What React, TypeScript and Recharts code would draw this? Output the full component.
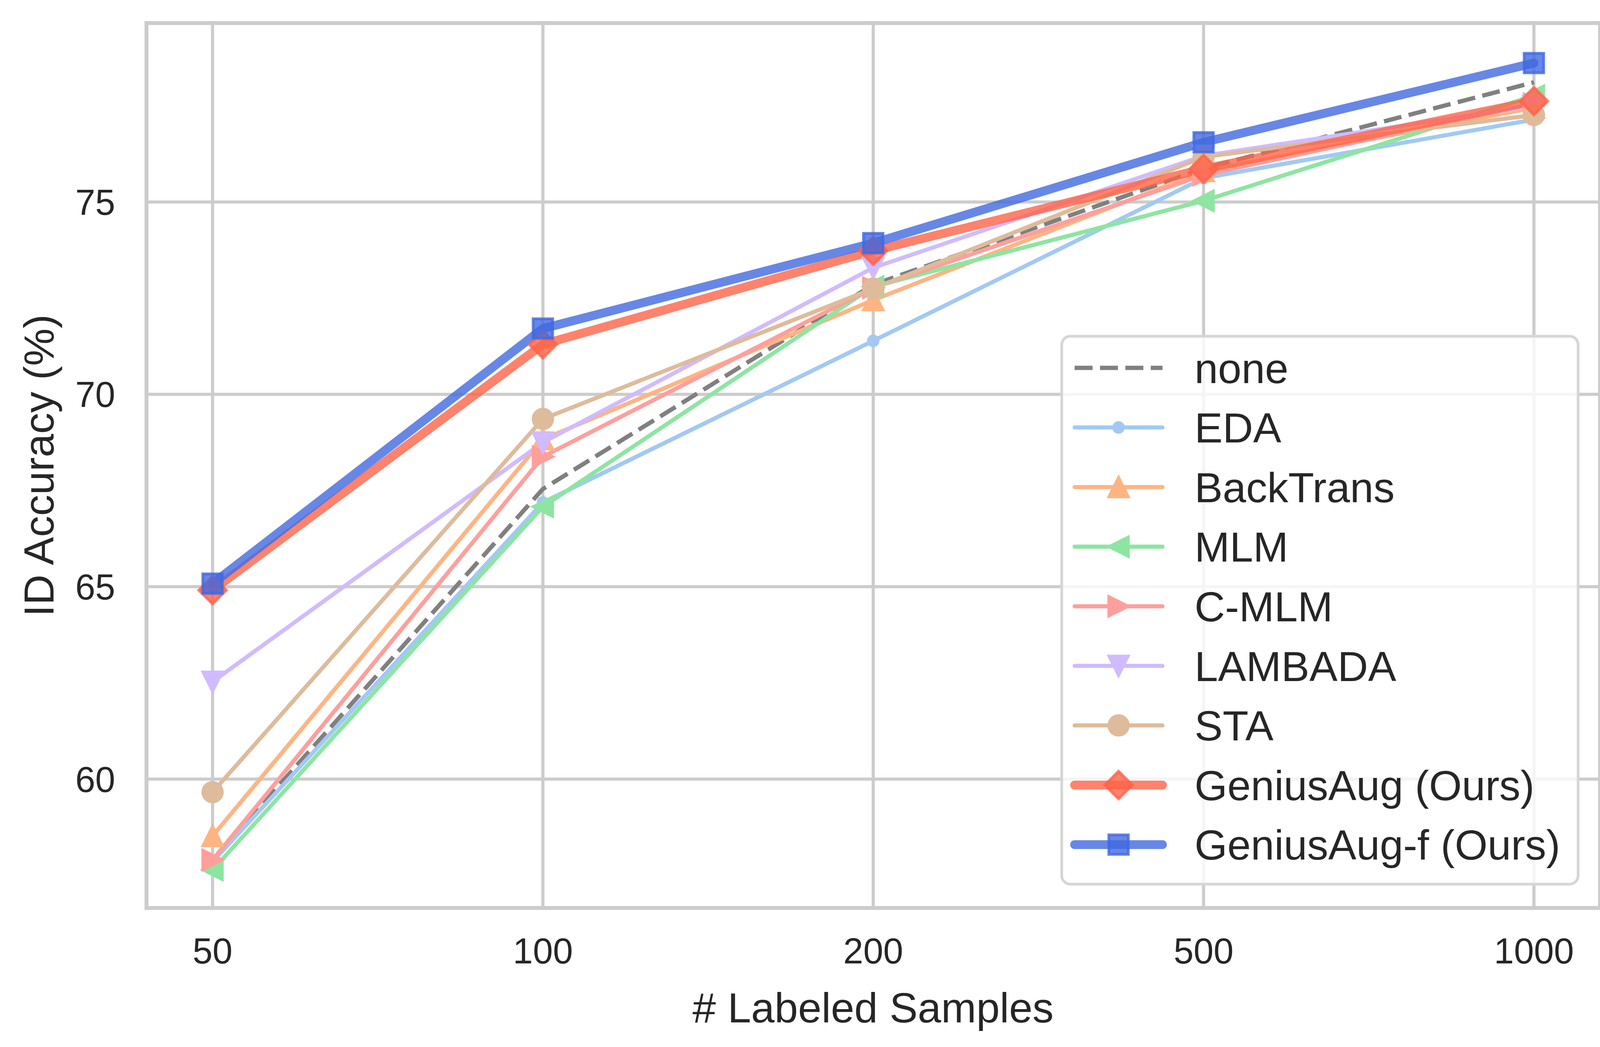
import React from 'react';
import { LineChart, Line, XAxis, YAxis, CartesianGrid, ReferenceArea, Label } from 'recharts';

const samples = ['50', '100', '200', '500', '1000'];

const none = [57.9, 67.54, 72.85, 75.87, 78.11];
const eda = [57.85, 67.19, 71.39, 75.62, 77.14];
const backTrans = [58.52, 68.83, 72.45, 75.8, 77.45];
const mlm = [57.64, 67.08, 72.8, 75.03, 77.76];
const cmlm = [57.9, 68.38, 72.77, 75.7, 77.55];
const lambada = [62.53, 68.75, 73.29, 76.2, 77.5];
const sta = [59.66, 69.36, 72.75, 76.17, 77.26];
const geniusAug = [64.91, 71.3, 73.73, 75.86, 77.62];
const geniusAugF = [65.08, 71.71, 73.93, 76.55, 78.61];

const yTicks = [60, 65, 70, 75];
const Y_MIN = 56.65;
const Y_MAX = 79.65;

const W = 4155;
const H = 2681;
const FONT = 'Arial, "Liberation Sans", sans-serif';
const INK = '#262626';
const GRID = '#cccccc';
const MS = 50; // marker size
const MEW = 7; // marker edge width

type Kind = 'none' | 'point' | 'up' | 'left' | 'right' | 'down' | 'circle' | 'diamond' | 'square';

interface Series {
  key: string;
  name: string;
  values: number[];
  color: string;
  width: number;
  alpha: number;
  marker: Kind;
  dashed?: boolean;
}

const series: Series[] = [
  { key: 'none', name: 'none', values: none, color: '#808080', width: 11, alpha: 1, marker: 'none', dashed: true },
  { key: 'eda', name: 'EDA', values: eda, color: '#a1c9f4', width: 10.5, alpha: 1, marker: 'point' },
  { key: 'backTrans', name: 'BackTrans', values: backTrans, color: '#ffb482', width: 10.5, alpha: 1, marker: 'up' },
  { key: 'mlm', name: 'MLM', values: mlm, color: '#8de5a1', width: 10.5, alpha: 1, marker: 'left' },
  { key: 'cmlm', name: 'C-MLM', values: cmlm, color: '#ff9f9b', width: 10.5, alpha: 1, marker: 'right' },
  { key: 'lambada', name: 'LAMBADA', values: lambada, color: '#d0bbff', width: 10.5, alpha: 1, marker: 'down' },
  { key: 'sta', name: 'STA', values: sta, color: '#debb9b', width: 10.5, alpha: 1, marker: 'circle' },
  { key: 'geniusAug', name: 'GeniusAug (Ours)', values: geniusAug, color: '#ff6347', width: 22.5, alpha: 0.8, marker: 'diamond' },
  { key: 'geniusAugF', name: 'GeniusAug-f (Ours)', values: geniusAugF, color: '#4169e1', width: 22.5, alpha: 0.8, marker: 'square' },
];

const data = samples.map((s, i) => {
  const row: Record<string, number> = { x: i };
  series.forEach((sr) => {
    row[sr.key] = sr.values[i];
  });
  return row;
});

function Marker({ kind, cx, cy, color, alpha }: { kind: Kind; cx: number; cy: number; color: string; alpha: number }) {
  const common = {
    fill: color,
    fillOpacity: alpha,
    stroke: color,
    strokeOpacity: alpha,
    strokeWidth: MEW,
    strokeLinejoin: 'miter' as const,
  };
  const r = MS / 2;
  const pts = (arr: number[][]) => arr.map(([a, b]) => `${cx + a},${cy + b}`).join(' ');
  switch (kind) {
    case 'point':
      return <circle cx={cx} cy={cy} r={r / 2} {...common} />;
    case 'circle':
      return <circle cx={cx} cy={cy} r={r} {...common} />;
    case 'up':
      return <polygon points={pts([[0, -r], [-r, r], [r, r]])} {...common} />;
    case 'down':
      return <polygon points={pts([[0, r], [-r, -r], [r, -r]])} {...common} />;
    case 'left':
      return <polygon points={pts([[-r, 0], [r, -r], [r, r]])} {...common} />;
    case 'right':
      return <polygon points={pts([[r, 0], [-r, -r], [-r, r]])} {...common} />;
    case 'diamond': {
      const d = (MS * Math.SQRT2) / 2;
      return <polygon points={pts([[0, -d], [d, 0], [0, d], [-d, 0]])} {...common} />;
    }
    case 'square':
      return <rect x={cx - r} y={cy - r} width={MS} height={MS} {...common} />;
    default:
      return <g />;
  }
}

const YTitle = () => (
  <text
    x={137}
    y={1192}
    transform="rotate(-90 137 1192)"
    textAnchor="middle"
    fontFamily={FONT}
    fontSize={108}
    fill={INK}
  >
    ID Accuracy (%)
  </text>
);

const XTitle = () => (
  <text x={2235} y={2618} textAnchor="middle" fontFamily={FONT} fontSize={108} fill={INK}>
    # Labeled Samples
  </text>
);

// legend box geometry
const LG = { left: 2718, top: 861, width: 1322, height: 1403, row0: 942, step: 152.6, h1: 2751, h2: 2976, text: 3058 };

const LegendBox = () => (
  <svg
    width={W}
    height={H}
    style={{ position: 'absolute', left: 0, top: 0, pointerEvents: 'none' }}
  >
    <rect
      x={LG.left}
      y={LG.top}
      width={LG.width}
      height={LG.height}
      rx={22}
      ry={22}
      fill="#ffffff"
      fillOpacity={0.8}
      stroke="#d6d6d6"
      strokeWidth={7}
    />
    {series.map((s, i) => {
      const y = LG.row0 + LG.step * i;
      const mid = (LG.h1 + LG.h2) / 2;
      return (
        <g key={s.key}>
          <line
            x1={LG.h1}
            x2={LG.h2}
            y1={y}
            y2={y}
            stroke={s.color}
            strokeOpacity={s.alpha}
            strokeWidth={s.width}
            strokeLinecap={s.dashed ? 'butt' : 'round'}
            strokeDasharray={s.dashed ? '46 19' : undefined}
          />
          <Marker kind={s.marker} cx={mid} cy={y} color={s.color} alpha={s.alpha} />
          <text x={LG.text} y={y + 38.5} fontFamily={FONT} fontSize={108} fill={INK}>
            {s.name}
          </text>
        </g>
      );
    })}
  </svg>
);

export default function App() {
  return (
    <div style={{ position: 'absolute', left: 0, top: 0, width: W, height: H, background: '#ffffff' }}>
      <LineChart width={W} height={H} data={data} margin={{ top: 59, right: 59, bottom: 0, left: 0 }}>
        <CartesianGrid stroke={GRID} strokeWidth={8} />
        <XAxis
          dataKey="x"
          type="number"
          domain={[-0.2, 4.2]}
          ticks={[0, 1, 2, 3, 4]}
          interval={0}
          allowDataOverflow
          tickFormatter={(v: number) => samples[v]}
          height={356}
          axisLine={false}
          tickLine={false}
          tickSize={0}
          tickMargin={77}
          tick={{ fontSize: 92, fill: INK, fontFamily: FONT }}
        >
          <Label content={XTitle} />
        </XAxis>
        <YAxis
          type="number"
          domain={[Y_MIN, Y_MAX]}
          ticks={yTicks}
          interval={0}
          allowDataOverflow
          width={375}
          axisLine={false}
          tickLine={false}
          tickSize={0}
          tickMargin={80}
          tick={{ fontSize: 92, fill: INK, fontFamily: FONT }}
        >
          <Label content={YTitle} />
        </YAxis>
        <ReferenceArea
          x1={-0.2}
          x2={4.2}
          y1={Y_MIN}
          y2={Y_MAX}
          fill="none"
          stroke={GRID}
          strokeWidth={10}
          ifOverflow="visible"
        />
        {series.map((s) => (
          <Line
            key={s.key}
            dataKey={s.key}
            name={s.name}
            type="linear"
            stroke={s.color}
            strokeOpacity={s.alpha}
            strokeWidth={s.width}
            strokeLinecap={s.dashed ? 'butt' : 'round'}
            strokeLinejoin="round"
            strokeDasharray={s.dashed ? '46 19' : undefined}
            isAnimationActive={false}
            activeDot={false}
            dot={(p: any) => (
              <Marker
                key={`${s.key}-${p.index}`}
                kind={s.marker}
                cx={p.cx}
                cy={p.cy}
                color={s.color}
                alpha={s.alpha}
              />
            )}
          />
        ))}
      </LineChart>
      <LegendBox />
    </div>
  );
}
